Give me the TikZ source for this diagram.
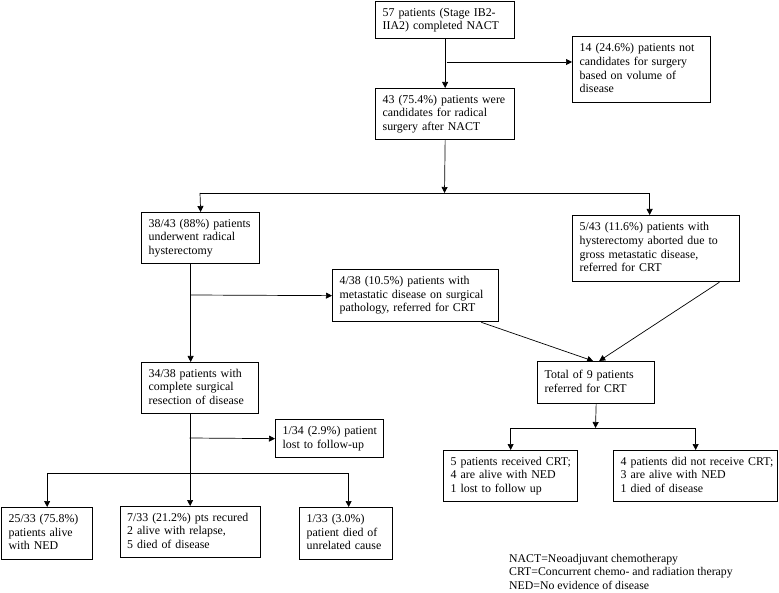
\documentclass[tikz,border=0pt]{standalone}
\usepackage{fontspec}
\setmainfont{Liberation Serif}
\usetikzlibrary{arrows.meta,calc}
\newcommand{\tb}[1]{\begin{tabular}{@{}l@{}}#1\end{tabular}}
\begin{document}
\begin{tikzpicture}[x=1pt,y=1pt,
  box/.style={draw, line width=1.3pt, rectangle, anchor=north west, align=left,
    inner xsep=7pt, inner ysep=0pt, font=\fontsize{11.9}{13.6}\selectfont},
  con/.style={line width=0.7pt},
  arr/.style={con, -{Triangle[length=6pt,width=6pt]}},
  legend/.style={anchor=north west, align=left, inner sep=0pt, font=\fontsize{11.8}{13.4}\selectfont}]
\useasboundingbox (0,0) rectangle (779,-593);

\node[box, minimum height=37pt, text width=125pt] (A) at (375,-1) {\tb{57 patients (Stage IB2-\\IIA2) completed NACT}};
\node[box, minimum height=66pt, text width=124pt] (B) at (572,-36) {\tb{14 (24.6\%) patients not\\candidates for surgery\\based on volume of\\disease}};
\node[box, minimum height=51pt, text width=125pt] (C) at (375,-88) {\tb{43 (75.4\%) patients were\\candidates for radical\\surgery after NACT}};
\node[box, minimum height=51pt, text width=104pt] (D) at (141,-212) {\tb{38/43 (88\%) patients\\underwent radical\\hysterectomy}};
\node[box, minimum height=66pt, text width=153pt] (E) at (572,-215) {\tb{5/43 (11.6\%) patients with\\hysterectomy aborted due to\\gross metastatic disease,\\referred for CRT}};
\node[box, minimum height=52pt, text width=152pt] (F) at (332,-269) {\tb{4/38 (10.5\%) patients with\\metastatic disease on surgical\\pathology, referred for CRT}};
\node[box, minimum height=51pt, text width=103pt] (G) at (141,-362) {\tb{34/38 patients with\\complete surgical\\resection of disease}};
\node[box, minimum height=42pt, text width=103pt] (H) at (537,-361) {\tb{Total of 9 patients\\referred for CRT}};
\node[box, minimum height=38pt, text width=94pt] (K) at (275,-419) {\tb{1/34 (2.9\%) patient\\lost to follow-up}};
\node[box, minimum height=51pt, text width=120pt] (I) at (443,-450) {\tb{5 patients received CRT;\\4 are alive with NED\\1 lost to follow up}};
\node[box, minimum height=51pt, text width=150pt] (J) at (613,-450) {\tb{4 patients did not receive CRT;\\3 are alive with NED\\1 died of disease}};
\node[box, minimum height=52pt, text width=77pt] (L) at (1,-507) {\tb{25/33 (75.8\%)\\patients alive\\with NED}};
\node[box, minimum height=51pt, text width=126pt] (M) at (119.5,-506) {\tb{7/33 (21.2\%) pts recured\\2 alive with relapse,\\5 died of disease}};
\node[box, minimum height=52pt, text width=79pt] (N) at (299,-507) {\tb{1/33 (3.0\%)\\patient died of\\unrelated cause}};

\node[legend] (leg) at (509,-554) {NACT=Neoadjuvant chemotherapy\\CRT=Concurrent chemo- and radiation therapy\\NED=No evidence of disease};

% connectors
\draw[arr] (A.south) -- (C.north);
\coordinate (b1) at (446.5,-62);
\draw[arr] (b1) -- (b1 -| B.west);
\coordinate (j1) at (444.5,-193);
\draw[arr] (C.south) -- (j1);
\draw[con] (j1) -- ++(-244.5,0) coordinate (j1l);
\draw[arr] (j1l) -- (D.north);
\draw[arr] (j1) -| ([xshift=-6.5pt]E.north);
\draw[arr] ([xshift=-10pt]D.south) -- ([xshift=-9.5pt]G.north);
\coordinate (j2) at (190,-295);
\draw[arr] (j2) -- (F.west);
\draw[arr] ([xshift=-18pt]F.south east) -- ([xshift=-3pt]H.north);
\draw[arr] ([xshift=-21pt]E.south east) -- ([xshift=3pt]H.north);
\coordinate (j3) at (595.5,-428);
\draw[arr] (H.south) -- (j3);
\draw[arr] (j3) -| (I.north);
\draw[arr] (j3) -| (J.north);
\draw[arr] ([xshift=-10pt]G.south) -- (M.north);
\coordinate (j4) at (189.5,-438);
\draw[arr] (j4) -- (K.west);
\coordinate (j5) at (189.5,-473);
\draw[arr] (j5) -| (L.north);
\draw[arr] (j5) -| ([xshift=2.5pt]N.north);
\end{tikzpicture}
\end{document}
